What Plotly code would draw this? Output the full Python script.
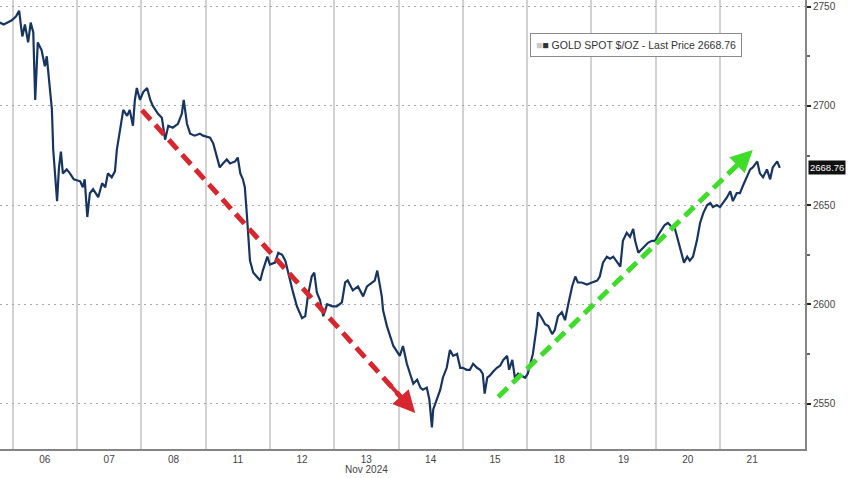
import plotly.graph_objects as go

# Time in trading-day units: 0 = start of Nov 06 session, each session = 1 unit
time_days = [
    -0.20, -0.14, -0.08, -0.02, 0.05, 0.10, 0.13, 0.15, 0.19, 0.24, 0.28, 0.32, 0.35, 0.39,
    0.45, 0.50, 0.53, 0.58, 0.61, 0.63, 0.66, 0.69, 0.72, 0.75, 0.78, 0.84, 0.89, 0.95,
    1.05, 1.09, 1.12, 1.14, 1.16, 1.20, 1.25, 1.33, 1.39, 1.44, 1.48, 1.54, 1.59, 1.62,
    1.65, 1.72, 1.78, 1.82, 1.87, 1.90, 1.93, 1.98, 2.03, 2.09, 2.14, 2.18, 2.26, 2.32,
    2.37, 2.42, 2.49, 2.57, 2.63, 2.66, 2.71, 2.76, 2.83, 2.91,
    2.96, 3.07, 3.12, 3.18, 3.22, 3.27, 3.33, 3.38, 3.46, 3.50, 3.54, 3.58, 3.61, 3.64,
    3.66, 3.69, 3.74, 3.80, 3.85, 3.89, 3.96, 4.00, 4.08, 4.13, 4.19, 4.24, 4.31, 4.36,
    4.42, 4.50, 4.55, 4.59, 4.65, 4.69, 4.73, 4.78, 4.83, 4.89, 4.97, 5.04, 5.12, 5.17,
    5.21, 5.29, 5.37, 5.45, 5.51, 5.59, 5.63, 5.67, 5.70, 5.74, 5.76, 5.82,
    5.87, 5.92, 5.98, 6.02, 6.07, 6.13, 6.18, 6.23, 6.29, 6.34, 6.38, 6.44, 6.48, 6.52,
    6.54, 6.60, 6.65, 6.69, 6.75, 6.80, 6.85, 6.91, 6.96, 7.00, 7.06, 7.11, 7.16, 7.22,
    7.27, 7.31, 7.34, 7.38, 7.42, 7.47, 7.53, 7.58, 7.63, 7.69, 7.72, 7.77, 7.81, 7.86,
    7.92, 7.97, 8.01, 8.05, 8.09, 8.15, 8.17, 8.23, 8.28, 8.33, 8.39, 8.43, 8.48, 8.54,
    8.59, 8.64, 8.70, 8.75, 8.79, 8.85, 8.93, 9.01, 9.09, 9.13, 9.18, 9.24, 9.29, 9.34,
    9.40, 9.45, 9.49, 9.55, 9.60, 9.65, 9.68, 9.73, 9.79, 9.84, 9.88, 9.94, 9.99, 10.04,
    10.10, 10.14, 10.19, 10.25, 10.30, 10.35, 10.41, 10.44, 10.49, 10.53, 10.58, 10.64,
    10.69, 10.74, 10.80, 10.85, 10.89, 10.95, 11.00, 11.05, 11.11, 11.16, 11.20, 11.26,
    11.31, 11.36, 11.42, 11.47, 11.51, 11.58, 11.62, 11.67, 11.73, 11.78, 11.82, 11.89, 11.93,
]

gold_price = [
    2742, 2741, 2742, 2743, 2745, 2748, 2740, 2735, 2741, 2732, 2742, 2737, 2703, 2732,
    2728, 2720, 2725, 2706, 2698, 2678, 2663, 2652, 2669, 2677, 2666, 2668, 2666, 2663,
    2662, 2659, 2663, 2652, 2644, 2656, 2658, 2654, 2661, 2659, 2666, 2664, 2667, 2678,
    2684, 2698, 2695, 2698, 2690, 2703, 2709, 2703, 2707, 2709, 2703, 2700, 2696, 2694,
    2683, 2690, 2689, 2691, 2696, 2703, 2691, 2686, 2685, 2686,
    2685, 2684, 2681, 2673, 2669, 2671, 2673, 2671, 2672, 2674, 2666, 2663, 2659, 2646,
    2634, 2622, 2616, 2614, 2612, 2617, 2624, 2620, 2621, 2626, 2625, 2622, 2612, 2606,
    2599, 2593, 2594, 2604, 2614, 2616, 2606, 2602, 2594, 2600, 2599, 2599, 2601, 2611,
    2612, 2607, 2609, 2604, 2609, 2611, 2612, 2617, 2611, 2604, 2597, 2589,
    2584, 2579, 2576, 2574, 2579, 2570, 2565, 2560, 2562, 2558, 2557, 2558, 2552, 2538,
    2547, 2553, 2557, 2563, 2568, 2577, 2574, 2575, 2568, 2568, 2567, 2567, 2570, 2568,
    2567, 2565, 2555, 2563, 2564, 2566, 2568, 2569, 2572, 2574, 2567, 2572, 2563, 2565,
    2564, 2563, 2565, 2570, 2575, 2589, 2596, 2593, 2590, 2589, 2585, 2587, 2594, 2596,
    2592, 2600, 2609, 2614, 2611, 2611, 2610, 2611, 2612, 2614, 2621, 2624, 2623, 2624,
    2621, 2619, 2632, 2636, 2634, 2638, 2632, 2626, 2628, 2630, 2631, 2632, 2632, 2635,
    2638, 2640, 2641, 2639, 2638, 2632, 2626, 2621, 2624, 2622, 2624, 2632,
    2641, 2646, 2650, 2651, 2649, 2650, 2649, 2651, 2654, 2657, 2652, 2656,
    2656, 2660, 2664, 2668, 2669, 2672, 2666, 2664, 2668, 2663, 2669, 2672, 2668.76,
]

day_labels = ["06", "07", "08", "11", "12", "13", "14", "15", "18", "19", "20", "21"]
day_centers = [i + 0.5 for i in range(len(day_labels))]
day_boundaries = list(range(len(day_labels)))
y_ticks = [2550, 2600, 2650, 2700, 2750]
last_price = 2668.76

# trend arrows (start, tip) in (day, price)
red_arrow = [(2.01, 2697.9), (6.26, 2545.2)]
green_arrow = [(7.55, 2553.3), (11.51, 2677.8)]

FONT = "Liberation Sans Narrow, Arial Narrow, Liberation Sans, sans-serif"

fig = go.Figure()
fig.add_trace(go.Scatter(
    x=time_days, y=gold_price, mode="lines",
    line=dict(color="#17355f", width=2.2),
    hoverinfo="skip", showlegend=False,
))

for (p0, p1), col in [(red_arrow, "#d8262e"), (green_arrow, "#3fdc2a")]:
    fig.add_shape(type="line", xref="x", yref="y",
                  x0=p0[0], y0=p0[1], x1=p0[0] + (p1[0] - p0[0]) * 0.95,
                  y1=p0[1] + (p1[1] - p0[1]) * 0.95,
                  line=dict(color=col, width=5, dash="13px,7px"))
    fig.add_annotation(x=p1[0], y=p1[1], xref="x", yref="y",
                       ax=p0[0] + (p1[0] - p0[0]) * 0.9, ay=p0[1] + (p1[1] - p0[1]) * 0.9,
                       axref="x", ayref="y", text="", showarrow=True,
                       arrowhead=2, arrowsize=1.1, arrowwidth=4, arrowcolor=col, standoff=0)

fig.add_annotation(
    x=0.79, y=0.9, xref="paper", yref="paper", xanchor="center", yanchor="middle",
    text="<span style='color:#c8c8c8'>■</span>■ GOLD SPOT $/OZ - Last Price 2668.76",
    showarrow=False, font=dict(family=FONT, size=10.5, color="#333333"),
    bordercolor="#8a8a8a", borderwidth=1, borderpad=5, bgcolor="white",
)

fig.add_annotation(
    x=1, y=last_price, xref="paper", yref="y", xanchor="left", yanchor="middle",
    xshift=3, text="2668.76", showarrow=False,
    font=dict(family=FONT, size=9.5, color="white"), bgcolor="#111111", borderpad=1,
)

fig.add_annotation(
    x=day_centers[5], y=0, xref="x", yref="paper", xanchor="center", yanchor="top",
    yshift=-13, text="Nov 2024", showarrow=False,
    font=dict(family=FONT, size=10, color="#444444"),
)

fig.update_layout(
    width=848, height=478,
    margin=dict(l=0, r=43, t=0, b=29, pad=0),
    paper_bgcolor="white", plot_bgcolor="white",
    font=dict(family=FONT, size=10, color="#444444"),
    xaxis=dict(
        range=[-0.1975, 12.322], automargin=False,
        tickmode="array", tickvals=day_centers, ticktext=day_labels,
        showgrid=False, ticks="", ticklen=0, zeroline=False,
        showline=True, linecolor="#858585", linewidth=2,
        tickfont=dict(family=FONT, size=10, color="#444444"),
        minor=dict(tickmode="array", tickvals=day_boundaries, showgrid=True,
                   gridcolor="#d2d2d2", gridwidth=1.5, ticks=""),
    ),
    yaxis=dict(
        range=[2527.07, 2753.38], side="right", automargin=False,
        tickmode="array", tickvals=y_ticks,
        showgrid=True, gridcolor="#a8a8a8", griddash="2px,4px", gridwidth=1,
        ticks="outside", ticklen=4, tickwidth=2, tickcolor="#222222",
        showline=True, linecolor="#858585", linewidth=2, zeroline=False,
        tickfont=dict(family=FONT, size=10, color="#444444"),
        minor=dict(dtick=25, tick0=2525, ticks="outside", ticklen=3,
                   tickcolor="#666666", showgrid=False),
    ),
)

fig.write_html(
    "out.html",
    config={"displayModeBar": False},
    post_script="document.body.style.margin='0';document.body.style.overflow='hidden';",
)
